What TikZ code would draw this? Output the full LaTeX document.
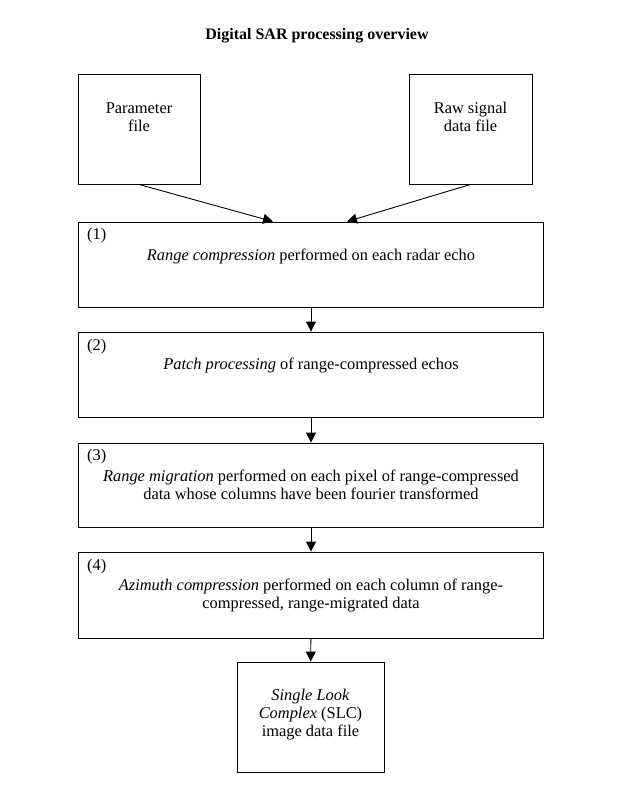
\documentclass[tikz,border=0pt]{standalone}
\usepackage{fontspec}
\setmainfont{Liberation Serif}
\usetikzlibrary{arrows.meta}

\begin{document}
\begin{tikzpicture}[x=1pt,y=-1pt,
        font=\fontsize{16.4}{18}\selectfont,
        box/.style={draw,line width=0.9pt,minimum width=#1,inner sep=0pt},
        box/.default=465pt,
        txt/.style={align=center,inner sep=0pt},
        num/.style={anchor=west,inner sep=0pt},
        flow/.style={line width=0.9pt,-{Triangle[length=10pt,width=10pt]}}]
    \useasboundingbox (0,0) rectangle (631,807);
    \node[font=\fontsize{16}{18}\selectfont\bfseries] (title) at (317,36) {Digital SAR processing overview};
    % input files
    \node[box=122pt,minimum height=110pt] (param) at (139,129) {};
    \node[box=123pt,minimum height=110pt] (raw) at (470.5,129) {};
    \node[txt] (paramtxt) at (139,117) {Parameter\\file};
    \node[txt] (rawtxt) at (470.5,117) {Raw signal\\data file};
    % processing steps
    \node[box,minimum height=85pt] (b1) at (311,264.5) {};
    \node[box,minimum height=85pt] (b2) at (311,374.5) {};
    \node[box,minimum height=84pt] (b3) at (311,485) {};
    \node[box,minimum height=86pt] (b4) at (311,595) {};
    \node[num] (n1) at (87,236) {(1)};
    \node[num] (n2) at (87,347) {(2)};
    \node[num] (n3) at (87,457) {(3)};
    \node[num] (n4) at (87,567) {(4)};
    \node[txt] (t1) at (311,256) {\textit{Range compression} performed on each radar echo};
    \node[txt] (t2) at (311,365) {\textit{Patch processing} of range-compressed echos};
    \node[txt] (t3) at (311,485) {\textit{Range migration} performed on each pixel of range-compressed\\data whose columns have been fourier transformed};
    \node[txt] (t4) at (311,595) {\textit{Azimuth compression} performed on each column of range-\\compressed, range-migrated data};
    % output
    \node[box=147pt,minimum height=110pt] (slc) at (310.5,717) {};
    \node[txt] (slctxt) at (310.5,715) {\textit{Single Look}\\\textit{Complex} (SLC)\\image data file};
    % arrows
    \draw[flow] (param.south) -- ([xshift=-38pt]b1.north);
    \draw[flow] (raw.south) -- ([xshift=36pt]b1.north);
    \draw[flow] (b1) -- (b2);
    \draw[flow] (b2) -- (b3);
    \draw[flow] (b3) -- (b4);
    \draw[flow] (b4) -- (slc);
\end{tikzpicture}
\end{document}
